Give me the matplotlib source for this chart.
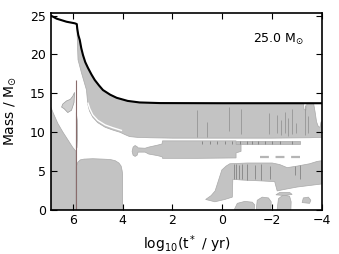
import numpy as np
import matplotlib.pyplot as plt
from matplotlib.patches import Polygon

# total stellar mass vs log10 of time before collapse
surf_logt = [6.88, 6.65, 6.25, 5.92, 5.84, 5.82, 5.78, 5.72, 5.66, 5.59, 5.5, 5.39,
             5.25, 5.12, 4.95, 4.79, 4.5, 4.24, 3.8, 3.32, 2.5, 0.0, -2.0, -3.25, -4.0]
surf_mass = [25.0, 24.6, 24.2, 24.0, 23.9, 23.3, 22.5, 21.85, 20.8, 19.9, 19.0, 18.25,
             17.4, 16.7, 16.0, 15.4, 14.8, 14.4, 14.0, 13.8, 13.72, 13.7, 13.7, 13.7, 13.7]

# early convective core
core1_logt = [6.88, 6.88, 6.78, 6.6, 6.4, 6.2, 6.0, 5.87, 5.87]
core1_mass = [0, 13.2, 12.4, 11.1, 10.0, 9.0, 8.0, 7.5, 0]

# second core (He burning)
core2_logt = [5.86, 5.86, 5.8, 5.7, 5.55, 5.2, 4.8, 4.5, 4.3, 4.15, 4.06, 4.02, 4.0, 4.0]
core2_mass = [0, 5.5, 6.1, 6.4, 6.5, 6.55, 6.5, 6.45, 6.3, 6.0, 5.6, 5.0, 4.5, 0]

sliver_logt = [5.86, 5.86, 5.82, 5.81, 5.83]
sliver_mass = [7.8, 12.5, 11.5, 9.5, 8.0]

# convective envelope: right-hand notch and lower boundary
notch_logt = [-3.28, -3.35, -3.4, -3.66, -3.72, -3.78, -3.85, -3.92, -3.96, -4.0]
notch_mass = [12.9, 12.8, 13.7, 13.7, 12.6, 11.3, 10.7, 10.6, 11.3, 11.3]
envlo_logt = [-4.0, -3.5, -2.0, 0.0, 2.0, 2.9, 3.4, 3.72, 3.9, 4.1, 4.4, 4.7, 5.0,
              5.2, 5.33, 5.4, 5.45, 5.65, 5.79, 5.84]
envlo_mass = [9.3, 9.25, 9.2, 9.2, 9.2, 9.25, 9.3, 9.4, 9.65, 9.95, 10.25, 10.6, 11.2,
              11.9, 12.7, 13.6, 15.4, 17.6, 19.3, 23.9]

wline_logt = [5.39, 5.32, 5.2, 5.0, 4.7, 4.4, 4.05]
wline_mass = [13.7, 13.0, 12.2, 11.5, 10.9, 10.55, 10.2]

# shell island below envelope
isl_logt = [3.62, 3.58, 3.5, 3.42, 3.38, 3.1, 2.95, 2.6, 2.42, 2.4, 1.0, -0.55, -0.55,
            -0.75, -0.75, -0.55, -0.55, 1.0, 2.4, 2.42, 2.6, 2.95, 3.1, 3.38, 3.42, 3.5, 3.58]
isl_mass = [7.5, 8.05, 8.25, 8.1, 7.95, 7.9, 8.05, 8.3, 8.45, 8.85, 8.85, 8.85, 8.4,
            8.4, 7.5, 7.3, 6.65, 6.6, 6.6, 6.8, 6.95, 7.15, 7.4, 7.4, 7.0, 6.85, 7.0]
stripe_logt = [-0.55, -3.1, -3.1, -0.55]
stripe_mass = [8.85, 8.85, 8.45, 8.45]
dash_logt = [-1.5, -3.3]
dash_mass = [6.8, 6.8]

# late shell region (lower right)
hill_logt = [0.67, 0.45, 0.29, 0.12, 0.02, -0.15, -0.3, -1.0, -2.0, -2.3, -2.6, -3.0,
             -3.5, -3.8, -4.0, -4.0, -3.5, -3.0, -2.5, -2.2, -2.1, -1.5, -0.8, -0.42,
             -0.4, -0.1, 0.3]
hill_mass = [1.3, 1.8, 2.4, 4.1, 5.1, 5.6, 5.9, 6.0, 6.0, 5.8, 5.4, 5.6,
             5.9, 6.2, 6.3, 3.3, 3.1, 2.9, 2.6, 2.4, 3.6, 3.7, 3.8, 3.9,
             1.6, 1.3, 1.0]

blobs = [
    ([-0.48, -0.6, -0.9, -1.2, -1.3, -1.28], [0, 0.8, 1.05, 0.95, 0.6, 0]),
    ([-1.36, -1.4, -1.6, -1.85, -1.96, -1.95], [0, 1.2, 1.6, 1.5, 1.0, 0]),
    ([-2.2, -2.25, -2.45, -2.7, -2.76, -2.75], [0, 1.4, 1.9, 1.7, 1.0, 0]),
    ([-3.2, -3.25, -3.45, -3.55, -3.5], [0.9, 1.5, 1.6, 1.2, 0.8]),
    ([-2.15, -2.3, -2.7, -2.8, -2.5], [1.9, 2.2, 2.2, 1.95, 1.8]),
]

scrib_logt = [5.93, 6.0, 6.1, 6.25, 6.4, 6.45, 6.35, 6.2, 6.05, 5.95]
scrib_mass = [15.1, 14.6, 14.2, 14.0, 13.6, 13.2, 13.0, 12.5, 12.8, 13.8]

# darker vertical streaks inside the convective zones
hatch_logt = [1.0, 0.6, -0.28, -0.76, -1.88, -2.2, -2.35, -2.5, -2.65, -2.8, -2.95, -3.3, -3.45]
hatch_lo = [9.3, 9.3, 10.1, 9.7, 9.7, 9.8, 9.6, 9.8, 9.5, 9.7, 9.9, 9.6, 9.8]
hatch_hi = [12.8, 11.3, 13.2, 12.9, 12.4, 12.2, 11.5, 12.6, 11.8, 12.9, 11.2, 13.5, 12.0]
hill_hatch_logt = [-0.45, -0.55, -0.65, -0.8, -1.0, -1.3, -1.55, -1.9, -2.9, -3.1]
hill_hatch_lo = [3.9, 3.9, 3.9, 3.9, 3.8, 3.9, 3.8, 3.9, 4.5, 4.0]
hill_hatch_hi = [5.9, 5.9, 5.8, 5.9, 5.9, 5.8, 5.9, 5.6, 5.6, 5.8]
stripe_hatch = [0.8, 0.5, 0.2, -0.1, -0.4, -0.7, -1.0, -1.2, -1.45, -1.7, -2.0, -2.3, -2.8]

gray = '#c3c3c3'
edge = '#a9a9a9'
dark = '#8c8c8c'

plt.rcParams['font.family'] = 'DejaVu Sans'
fig = plt.figure(figsize=(3.39, 2.54), dpi=100)
ax = fig.add_axes([0.150, 0.175, 0.800, 0.773])


def patch(xs, ys, fc=gray, ec=edge, lw=0.5):
    ax.add_patch(Polygon(np.column_stack([xs, ys]), closed=True, fc=fc, ec=ec, lw=lw))


patch(core1_logt, core1_mass)
patch(core2_logt, core2_mass)
patch(sliver_logt, sliver_mass)

i0 = surf_logt.index(5.84)
env_x = surf_logt[i0:-1] + notch_logt + envlo_logt
env_y = surf_mass[i0:-1] + notch_mass + envlo_mass
patch(env_x, env_y)
ax.plot(wline_logt, wline_mass, color='white', lw=1.0)

patch(isl_logt, isl_mass)
patch(stripe_logt, stripe_mass, fc='#bdbdbd')
ax.plot(dash_logt, dash_mass, color='#b5b5b5', lw=1.6, dashes=(4, 3))
patch(hill_logt, hill_mass)
for bx, by in blobs:
    patch(bx, by)
patch(scrib_logt, scrib_mass, fc='#cfcfcf', ec='#9a9a9a', lw=0.5)

ax.vlines(hatch_logt, hatch_lo, hatch_hi, color=dark, lw=0.5)
ax.vlines(hill_hatch_logt, hill_hatch_lo, hill_hatch_hi, color=dark, lw=0.7)
ax.vlines(stripe_hatch, 8.45, 8.85, color='#7d7d7d', lw=0.6)
ax.vlines([5.87], 0, 16.7, color='#8a6c6c', lw=0.8)

ax.plot(surf_logt, surf_mass, color='black', lw=1.5)

ax.text(0.745, 0.865, r'25.0 M$_{\odot}$', transform=ax.transAxes,
        fontsize=9, va='center', ha='left')

ax.set_xlim(6.88, -4.0)
ax.set_ylim(0, 25.3)
ax.set_xticks([6, 4, 2, 0, -2, -4])
ax.set_yticks([0, 5, 10, 15, 20, 25])
ax.tick_params(direction='in', top=True, right=True, length=4, width=0.8, labelsize=9)
for s in ax.spines.values():
    s.set_linewidth(1.2)
ax.set_xlabel(r'log$_{10}$(t$^*$ / yr)', fontsize=10, labelpad=4)
ax.set_ylabel(r'Mass / M$_{\odot}$', fontsize=10, labelpad=9)

fig.savefig('out.png', dpi=100)
